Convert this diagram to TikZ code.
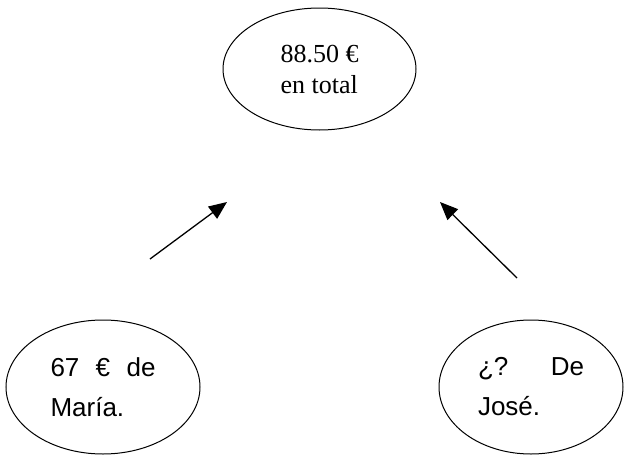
\documentclass[tikz,border=0pt]{standalone}
\usepackage{fontspec}
\setmainfont{Liberation Serif}
\newfontfamily\arialfont{Liberation Sans}
\usetikzlibrary{positioning, shapes, arrows.meta}

\tikzset{
	bubble/.style={draw, ellipse, line width=1pt, inner sep=0pt},
	pointer/.style={-{Triangle[length=18pt, width=15pt]}, line width=1.3pt}
}

\begin{document}
\begin{tikzpicture}[x=1pt, y=-1pt]
			\useasboundingbox (0,0) rectangle (624,455);
			
			\node[bubble, minimum width=193pt, minimum height=122pt, align=left, font=\fontsize{26}{31}\selectfont]
				(total) at (319.5, 69) {88.50 €\\en total};
			\node[bubble, minimum width=194pt, minimum height=134pt, text width=105pt, font=\arialfont\fontsize{26}{40}\selectfont]
				(maria) at (103, 387) {\makebox[105pt][l]{67\hfill €\hfill de}\\María.};
			\node[bubble, minimum width=184pt, minimum height=134pt, text width=106pt, font=\arialfont\fontsize{26}{40}\selectfont]
				(jose) at (531, 387) {\makebox[106pt][l]{¿?\hfill De}\\José.};
			
			\coordinate (mariatail) at (150, 259);
			\coordinate (mariahead) at (227, 202);
			\coordinate (josetail)  at (517, 278);
			\coordinate (josehead)  at (440, 202);
			
			\draw[pointer] (mariatail) -- (mariahead);
			\draw[pointer] (josetail) -- (josehead);
		\end{tikzpicture}
\end{document}
